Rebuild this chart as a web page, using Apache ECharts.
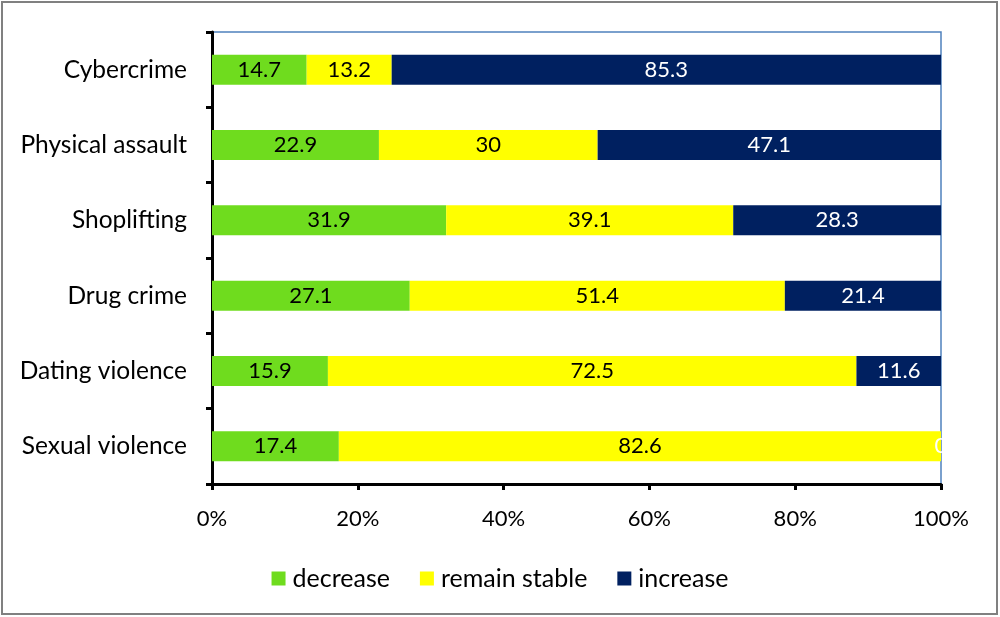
<!DOCTYPE html>
<html>
<head>
<meta charset="utf-8">
<script src="https://cdn.jsdelivr.net/npm/echarts@6/dist/echarts.min.js"></script>
<style>
  html, body { margin: 0; padding: 0; background: #fff; }
  #chart { width: 1000px; height: 617px; }
</style>
</head>
<body>
<div id="chart"></div>
<script>
// categories, top to bottom
var categories = ['Cybercrime', 'Physical assault', 'Shoplifting', 'Drug crime', 'Dating violence', 'Sexual violence'];
var decrease = [14.7, 22.9, 31.9, 27.1, 15.9, 17.4];
var stable = [13.2, 30, 39.1, 51.4, 72.5, 82.6];
var increase = [85.3, 47.1, 28.3, 21.4, 11.6, 0];
var xTicks = [0, 20, 40, 60, 80, 100];

var font = 'Lato, "Open Sans", sans-serif';

// bars are drawn as share of row total (100% stacked), labels keep raw values
function share(arr) {
  return arr.map(function (v, i) {
    var tot = decrease[i] + stable[i] + increase[i];
    return v / tot * 100;
  });
}

function mkSeries(name, raw, color, labelColor) {
  return {
    name: name,
    type: 'bar',
    stack: 'all',
    barWidth: 30,
    data: share(raw),
    itemStyle: { color: color },
    label: {
      show: true,
      position: 'inside',
      color: labelColor,
      fontSize: 22,
      fontFamily: font,
      formatter: function (p) { return String(raw[p.dataIndex]); }
    }
  };
}

var myChart = echarts.init(document.getElementById('chart'));
var option = {
  animation: false,
  textStyle: { fontFamily: font },
  graphic: [{
    type: 'rect',
    shape: { x: 2, y: 2, width: 995, height: 612 },
    style: { fill: 'none', stroke: '#808080', lineWidth: 2 },
    silent: true
  }],
  grid: {
    left: 212, right: 59, top: 32, bottom: 133,
    show: true, borderColor: '#4f81bd', borderWidth: 1.5, backgroundColor: 'transparent'
  },
  legend: {
    top: 561,
    left: 'center',
    itemWidth: 14, itemHeight: 14, itemGap: 30,
    icon: 'rect',
    textStyle: { fontSize: 25, color: '#000', fontFamily: font, padding: [0, 0, 0, 2] },
    data: ['decrease', 'remain stable', 'increase']
  },
  xAxis: {
    type: 'value',
    min: xTicks[0], max: xTicks[xTicks.length - 1], interval: 20,
    axisLine: { show: true, lineStyle: { color: '#000', width: 3 } },
    axisTick: { show: true, length: 6, lineStyle: { color: '#000', width: 3 } },
    axisLabel: { formatter: '{value}%', fontSize: 22, color: '#000', margin: 24 },
    splitLine: { show: false }
  },
  yAxis: {
    type: 'category',
    inverse: true,
    data: categories,
    axisLine: { show: true, lineStyle: { color: '#000', width: 3 } },
    axisTick: { show: true, length: 6, lineStyle: { color: '#000', width: 3 } },
    axisLabel: { fontSize: 24.5, color: '#000', margin: 25 }
  },
  series: [
    mkSeries('decrease', decrease, '#6fdc1e', '#000'),
    mkSeries('remain stable', stable, '#ffff00', '#000'),
    mkSeries('increase', increase, '#002060', '#fff')
  ]
};
myChart.setOption(option);
</script>
</body>
</html>
